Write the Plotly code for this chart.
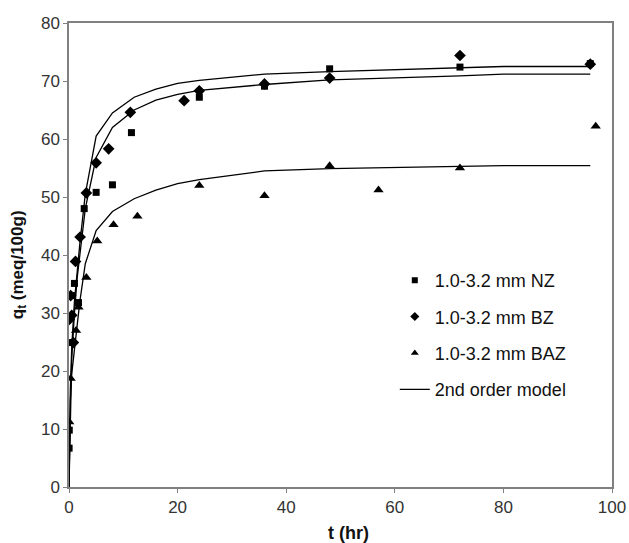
import plotly.graph_objects as go

# Experimental data
nz_t = [0.02, 0.05, 0.1, 0.5, 1, 1.75, 2.8, 5, 8, 11.5, 24, 36, 48, 72, 96]
nz_q = [6.7, 9.8, 24.9, 33.0, 35.1, 31.8, 48.0, 50.8, 52.1, 61.1, 67.2, 69.1, 72.1, 72.4, 73.0]

bz_t = [0.05, 0.8, 0.5, 0.3, 1.2, 2.05, 3.2, 5, 7.3, 11.3, 21.2, 24, 36, 48, 72, 96]
bz_q = [28.9, 24.9, 29.6, 33.0, 38.9, 43.1, 50.7, 55.9, 58.3, 64.6, 66.6, 68.3, 69.5, 70.5, 74.4, 72.9]

baz_t = [0.05, 0.3, 1.3, 1.75, 3.2, 5.2, 8.2, 12.6, 24, 36, 48, 57, 72, 97]
baz_q = [11.2, 18.7, 27.0, 31.0, 36.1, 42.4, 45.2, 46.7, 52.0, 50.2, 55.4, 51.2, 55.0, 62.2]

# 2nd order model curves
model_t = [0, 0.25, 0.5, 1, 1.5, 2, 3, 5, 8, 12, 16, 20, 24, 36, 48, 72, 80, 96]
model_nz = [0, 17, 24, 32, 37, 42, 50.5, 60.5, 64.5, 67.2, 68.6, 69.6, 70.1, 71.2, 71.6, 72.2, 72.5, 72.5]
model_bz = [0, 15, 22, 30, 36, 40, 48, 56.8, 62, 65, 66.7, 67.7, 68.4, 69.4, 70.2, 70.9, 71.2, 71.2]
model_baz = [0, 15, 19.5, 24, 28.5, 32, 38.5, 44.2, 47.5, 49.7, 51.2, 52.3, 53.0, 54.5, 54.9, 55.3, 55.4, 55.4]

x_ticks = [0, 20, 40, 60, 80, 100]
y_ticks = [0, 10, 20, 30, 40, 50, 60, 70, 80]

FONT = "Arial, Liberation Sans, sans-serif"

series = [
    ("1.0-3.2 mm NZ", nz_t, nz_q, "square", 7, 6),
    ("1.0-3.2 mm BZ", bz_t, bz_q, "diamond", 9, 7),
    ("1.0-3.2 mm BAZ", baz_t, baz_q, "triangle-up", 9, 7),
]

fig = go.Figure()
for i, (name, t, q, sym, sz, lsz) in enumerate(series):
    fig.add_trace(go.Scatter(x=t, y=q, mode="markers", name=name, showlegend=False,
                             marker=dict(symbol=sym, size=sz, color="black")))
    # legend entry with smaller marker, as in the reference
    fig.add_trace(go.Scatter(x=[None], y=[None], mode="markers", name=name,
                             legendgroup=f"g{i}",
                             marker=dict(symbol=sym, size=lsz, color="black")))

for j, m in enumerate([model_nz, model_bz, model_baz]):
    fig.add_trace(go.Scatter(x=model_t, y=m, mode="lines", name="2nd order model",
                             showlegend=(j == 0), legendgroup="model",
                             line=dict(color="black", width=1.3)))

axis_common = dict(showline=True, linecolor="#808080", linewidth=1.5, mirror=True,
                   ticks="outside", ticklen=4, tickcolor="#808080", tickwidth=1,
                   showgrid=False, zeroline=False, automargin=False,
                   tickfont=dict(family=FONT, size=17, color="#333"))

fig.update_layout(
    width=629, height=543,
    margin=dict(l=69, r=17, t=23, b=56),
    paper_bgcolor="white", plot_bgcolor="white",
    font=dict(family=FONT, color="#111"),
    xaxis=dict(range=[0, 100], tickvals=x_ticks, **axis_common),
    yaxis=dict(range=[0, 80], tickvals=y_ticks, **axis_common),
    legend=dict(x=0.6, y=0.485, xanchor="left", yanchor="top",
                bgcolor="rgba(0,0,0,0)", font=dict(family=FONT, size=18, color="#111"),
                tracegroupgap=10),
    showlegend=True,
    annotations=[
        dict(text="<b>t (hr)</b>", xref="paper", yref="paper", x=0.514, y=-0.1,
             xanchor="center", yanchor="middle", showarrow=False,
             font=dict(family=FONT, size=18, color="#111")),
        dict(text="<b>q<sub>t</sub> (meq/100g)</b>", xref="paper", yref="paper",
             x=-0.092, y=0.478, xanchor="center", yanchor="middle", textangle=-90,
             showarrow=False, font=dict(family=FONT, size=17, color="#111")),
    ],
)

fig.write_html("out.html", config={"displayModeBar": False},
               post_script="document.body.style.margin='0px';document.body.style.padding='0px';")
